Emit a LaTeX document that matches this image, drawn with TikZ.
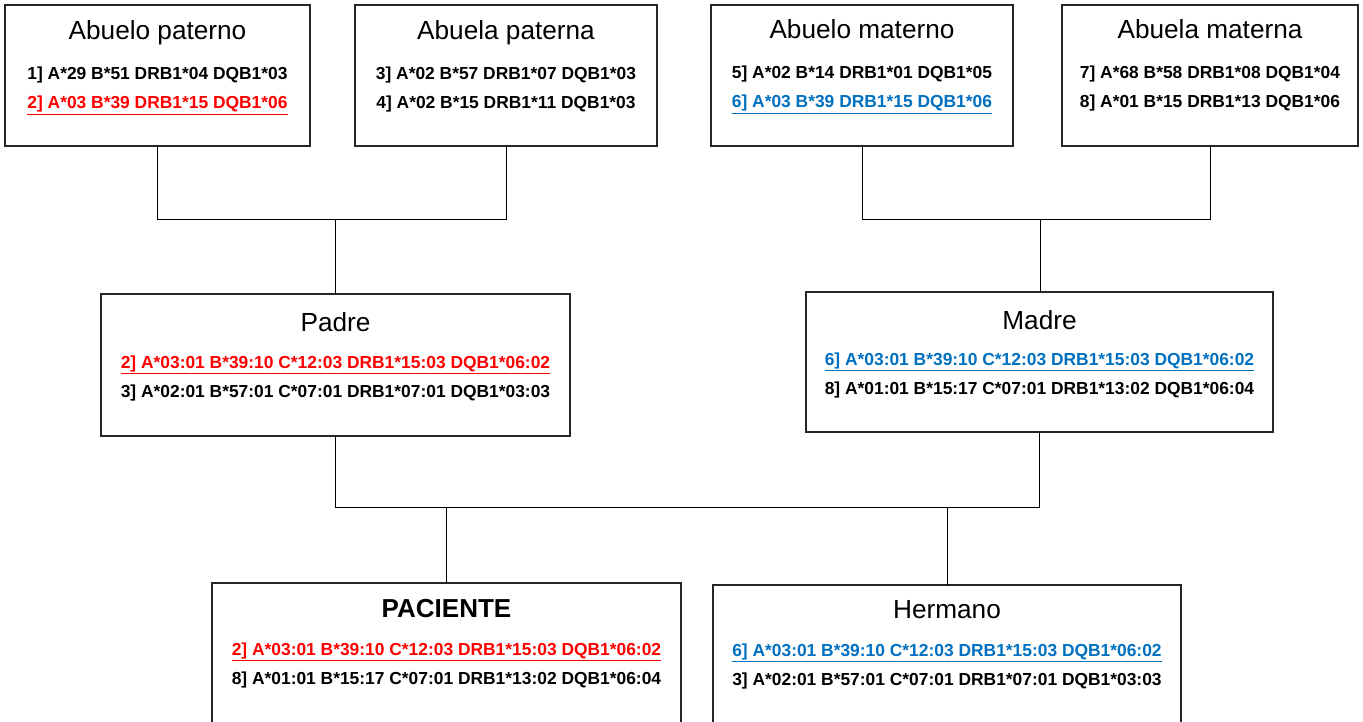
\documentclass[tikz,border=0pt]{standalone}
\usepackage{fontspec}
\setmainfont{Liberation Sans}
\definecolor{hred}{RGB}{255,0,0}
\definecolor{hblue}{RGB}{0,112,192}
\tikzset{
  box/.style={draw=black!85, line width=1.2pt, rectangle, inner sep=0pt, outer sep=0pt, fill=white},
  ttl/.style={anchor=base, inner sep=0pt, font=\fontsize{26.2}{30}\selectfont},
  ttlb/.style={anchor=base, inner sep=0pt, font=\fontsize{26}{30}\selectfont\bfseries},
  hla/.style={anchor=base, inner sep=0pt, font=\fontsize{17.4}{20}\selectfont\bfseries},
  conn/.style={draw=black, line width=1pt}
}
\newcommand{\redul}[1]{\textcolor{hred}{\underline{#1}}}
\newcommand{\blueul}[1]{\textcolor{hblue}{\underline{#1}}}
\begin{document}
\begin{tikzpicture}[x=1pt,y=-1pt]
\useasboundingbox (0,0) rectangle (1363,722);
\clip (0,0) rectangle (1363,722);
% connector junctions
\coordinate (jp) at (335,220);
\coordinate (jm) at (1040,220);
\coordinate (jc) at (640,507);
% grandparents
\node[box, minimum width=305, minimum height=141] (b1) at (157.5,75.5) {};
\node[box, minimum width=302, minimum height=141] (b2) at (506,75.5) {};
\node[box, minimum width=302, minimum height=141] (b3) at (862,75.5) {};
\node[box, minimum width=296, minimum height=141] (b4) at (1210,75.5) {};
% parents
\node[box, minimum width=469, minimum height=142] (pa) at (335.5,365) {};
\node[box, minimum width=467, minimum height=140] (ma) at (1039.5,362) {};
% children
\node[box, minimum width=469, minimum height=160] (pc) at (446.5,663) {};
\node[box, minimum width=468, minimum height=160] (he) at (947,665) {};
% connectors
\draw[conn] (b1.south) -- (b1.south |- jp) -- (b2.south |- jp) -- (b2.south);
\draw[conn] (jp) -- (jp |- pa.north);
\draw[conn] (b3.south) -- (b3.south |- jm) -- (b4.south |- jm) -- (b4.south);
\draw[conn] (jm) -- (jm |- ma.north);
\draw[conn] (pa.south) -- (pa.south |- jc) -- (ma.south |- jc) -- (ma.south);
\draw[conn] (pc.north) -- (pc.north |- jc);
\draw[conn] (he.north) -- (he.north |- jc);
% texts: grandparents
\node[ttl] (t1) at (157.5,40) {Abuelo paterno};
\node[hla] (t1a) at (157.5,80) {1] A*29 B*51 DRB1*04 DQB1*03};
\node[hla] (t1b) at (157.5,109) {\redul{2] A*03 B*39 DRB1*15 DQB1*06}};
\node[ttl] (t2) at (506,40) {Abuela paterna};
\node[hla] (t2a) at (506,80) {3] A*02 B*57 DRB1*07 DQB1*03};
\node[hla] (t2b) at (506,109) {4] A*02 B*15 DRB1*11 DQB1*03};
\node[ttl] (t3) at (862,39) {Abuelo materno};
\node[hla] (t3a) at (862,79) {5] A*02 B*14 DRB1*01 DQB1*05};
\node[hla] (t3b) at (862,108) {\blueul{6] A*03 B*39 DRB1*15 DQB1*06}};
\node[ttl] (t4) at (1210,39) {Abuela materna};
\node[hla] (t4a) at (1210,79) {7] A*68 B*58 DRB1*08 DQB1*04};
\node[hla] (t4b) at (1210,108) {8] A*01 B*15 DRB1*13 DQB1*06};
% parents
\node[ttl] (t5) at (335.5,331) {Padre};
\node[hla] (t5a) at (335.5,368) {\redul{2] A*03:01 B*39:10 C*12:03 DRB1*15:03 DQB1*06:02}};
\node[hla] (t5b) at (335.5,397) {3] A*02:01 B*57:01 C*07:01 DRB1*07:01 DQB1*03:03};
\node[ttl] (t6) at (1039.5,329) {Madre};
\node[hla] (t6a) at (1039.5,365) {\blueul{6] A*03:01 B*39:10 C*12:03 DRB1*15:03 DQB1*06:02}};
\node[hla] (t6b) at (1039.5,394) {8] A*01:01 B*15:17 C*07:01 DRB1*13:02 DQB1*06:04};
% children
\node[ttlb] (t7) at (446.5,617) {PACIENTE};
\node[hla] (t7a) at (446.5,655) {\redul{2] A*03:01 B*39:10 C*12:03 DRB1*15:03 DQB1*06:02}};
\node[hla] (t7b) at (446.5,684) {8] A*01:01 B*15:17 C*07:01 DRB1*13:02 DQB1*06:04};
\node[ttl] (t8) at (947,618) {Hermano};
\node[hla] (t8a) at (947,656) {\blueul{6] A*03:01 B*39:10 C*12:03 DRB1*15:03 DQB1*06:02}};
\node[hla] (t8b) at (947,685) {3] A*02:01 B*57:01 C*07:01 DRB1*07:01 DQB1*03:03};
\end{tikzpicture}
\end{document}
